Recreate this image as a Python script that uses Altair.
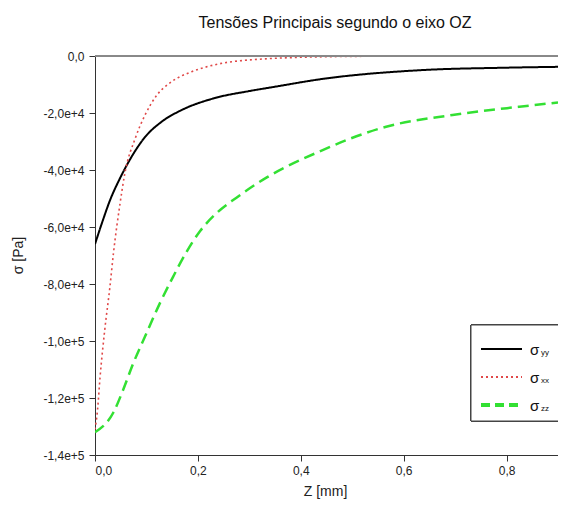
import altair as alt
import pandas as pd

# --- data ---
z_yy = [0, 0.015, 0.029, 0.0486, 0.0713, 0.097, 0.13, 0.168, 0.23, 0.3, 0.346, 0.44, 0.63, 0.8, 0.9]
s_yy = [-66000, -57800, -50700, -42900, -35300, -28500, -23000, -19000, -14900, -12300, -10900, -8100, -5000, -4100, -3800]

z_xx = [0, 0.005, 0.0097, 0.019, 0.029, 0.036, 0.0485, 0.058, 0.078, 0.097, 0.12, 0.149, 0.188, 0.23, 0.314, 0.47, 0.6, 0.9]
s_xx = [-131000, -124000, -113000, -96000, -81000, -69000, -52000, -41200, -29000, -20800, -13800, -9000, -5500, -3200, -1200, -200, -50, 0]

z_zz = [0, 0.036, 0.055, 0.074, 0.097, 0.126, 0.152, 0.178, 0.204, 0.237, 0.275, 0.334, 0.43, 0.566, 0.695, 0.825, 0.9]
s_zz = [-132000, -125000, -117000, -108000, -98500, -86800, -77400, -68700, -61500, -55000, -49700, -42600, -34000, -24800, -20700, -17800, -16300]

x_ticks = [0, 0.2, 0.4, 0.6, 0.8]
y_ticks = [0, -20000, -40000, -60000, -80000, -100000, -120000, -140000]
title_text = "Tensões Principais segundo o eixo OZ"
legend_subs = ["yy", "xx", "zz"]

rows = []
for name, zs, ss in [("yy", z_yy, s_yy), ("xx", z_xx, s_xx), ("zz", z_zz, s_zz)]:
    for z, s in zip(zs, ss):
        rows.append({"z": z, "s": s, "serie": name})
df = pd.DataFrame(rows)

FONT = "Liberation Sans"
W, H = 463, 399

xsc = alt.Scale(domain=[0, 0.9], nice=False, zero=False)
ysc = alt.Scale(domain=[-140000, 0], nice=False)

xax = alt.Axis(values=x_ticks, grid=False,
               labelExpr="replace(format(datum.value, '.1f'), '.', ',')",
               labelFont=FONT, labelFontSize=12, labelColor="#222", tickColor="#333", domainColor="#333",
               tickSize=6, labelPadding=4, title="Z [mm]", titleFont=FONT, titleFontSize=14,
               titleFontWeight="normal", titleColor="#222", titleX=230, titleY=36, titleBaseline="middle")
yax = alt.Axis(values=y_ticks, grid=False,
               labelExpr="datum.value == 0 ? '0,0' : replace(replace(format(datum.value, '.1e'), '.', ','), '\u2212', '-')",
               labelFont=FONT, labelFontSize=12, labelColor="#222", tickColor="#333", domainColor="#333",
               tickSize=6, labelPadding=5, title="σ [Pa]", titleFont=FONT, titleFontSize=14,
               titleFontWeight="normal", titleColor="#222", titleX=-77, titleY=199, titleAngle=-90,
               titleBaseline="middle", titleAlign="center")

def curve(name, color, dash, width):
    return alt.Chart(df).transform_filter(alt.datum.serie == name).mark_line(
        color=color, strokeDash=dash, strokeWidth=width, interpolate="monotone", clip=True
    ).encode(x=alt.X("z:Q", scale=xsc, axis=xax), y=alt.Y("s:Q", scale=ysc, axis=yax))

RED = "#e04848"
GREEN = "#33e033"

c_yy = curve("yy", "#000000", [1, 0], 2)
c_xx = curve("xx", RED, [2, 3], 1.6)
c_zz = curve("zz", GREEN, [11, 6], 2.5)

top_border = alt.Chart(df).mark_rule(color="#888", strokeWidth=1).encode(
    x=alt.value(0), x2=alt.value(480), y=alt.value(0))

title_mark = alt.Chart(pd.DataFrame({"t": [title_text]})).mark_text(
    font=FONT, fontSize=16, align="center", baseline="alphabetic", color="#111"
).encode(x=alt.value(240), y=alt.value(-28), text="t:N")

legend_box = alt.Chart(df).mark_rect(fill="white", stroke="#444", strokeWidth=1).encode(
    x=alt.value(376), x2=alt.value(500), y=alt.value(269), y2=alt.value(365))

def leg_line(y, color, dash, width):
    return alt.Chart(df).mark_rule(color=color, strokeDash=dash, strokeWidth=width).encode(
        x=alt.value(386), x2=alt.value(427), y=alt.value(y))

legend_lines = [leg_line(293, "#000000", [1, 0], 2), leg_line(321, RED, [2, 3], 1.6),
                leg_line(349, GREEN, [9, 5], 2.5)]

def sigma(y, sub):
    big = alt.Chart(pd.DataFrame({"t": ["σ"]})).mark_text(
        font=FONT, fontSize=15, align="left", baseline="middle", color="#111"
    ).encode(x=alt.value(435), y=alt.value(y), text="t:N")
    small = alt.Chart(pd.DataFrame({"t": [sub]})).mark_text(
        font=FONT, fontSize=8, align="left", baseline="middle", color="#111"
    ).encode(x=alt.value(446), y=alt.value(y + 3), text="t:N")
    return [big, small]

legend_texts = []
for yy, sub in zip([294, 322, 350], legend_subs):
    legend_texts += sigma(yy, sub)

chart = alt.layer(
    c_zz, c_yy, c_xx, top_border, title_mark, legend_box, *legend_lines, *legend_texts
).properties(
    width=W, height=H,
    autosize=alt.AutoSizeParams(type="none"),
    padding={"left": 87, "top": 48, "right": 0, "bottom": 45},
).configure_view(stroke=None)

chart.save("out.html", embed_options={"renderer": "svg", "actions": False})
